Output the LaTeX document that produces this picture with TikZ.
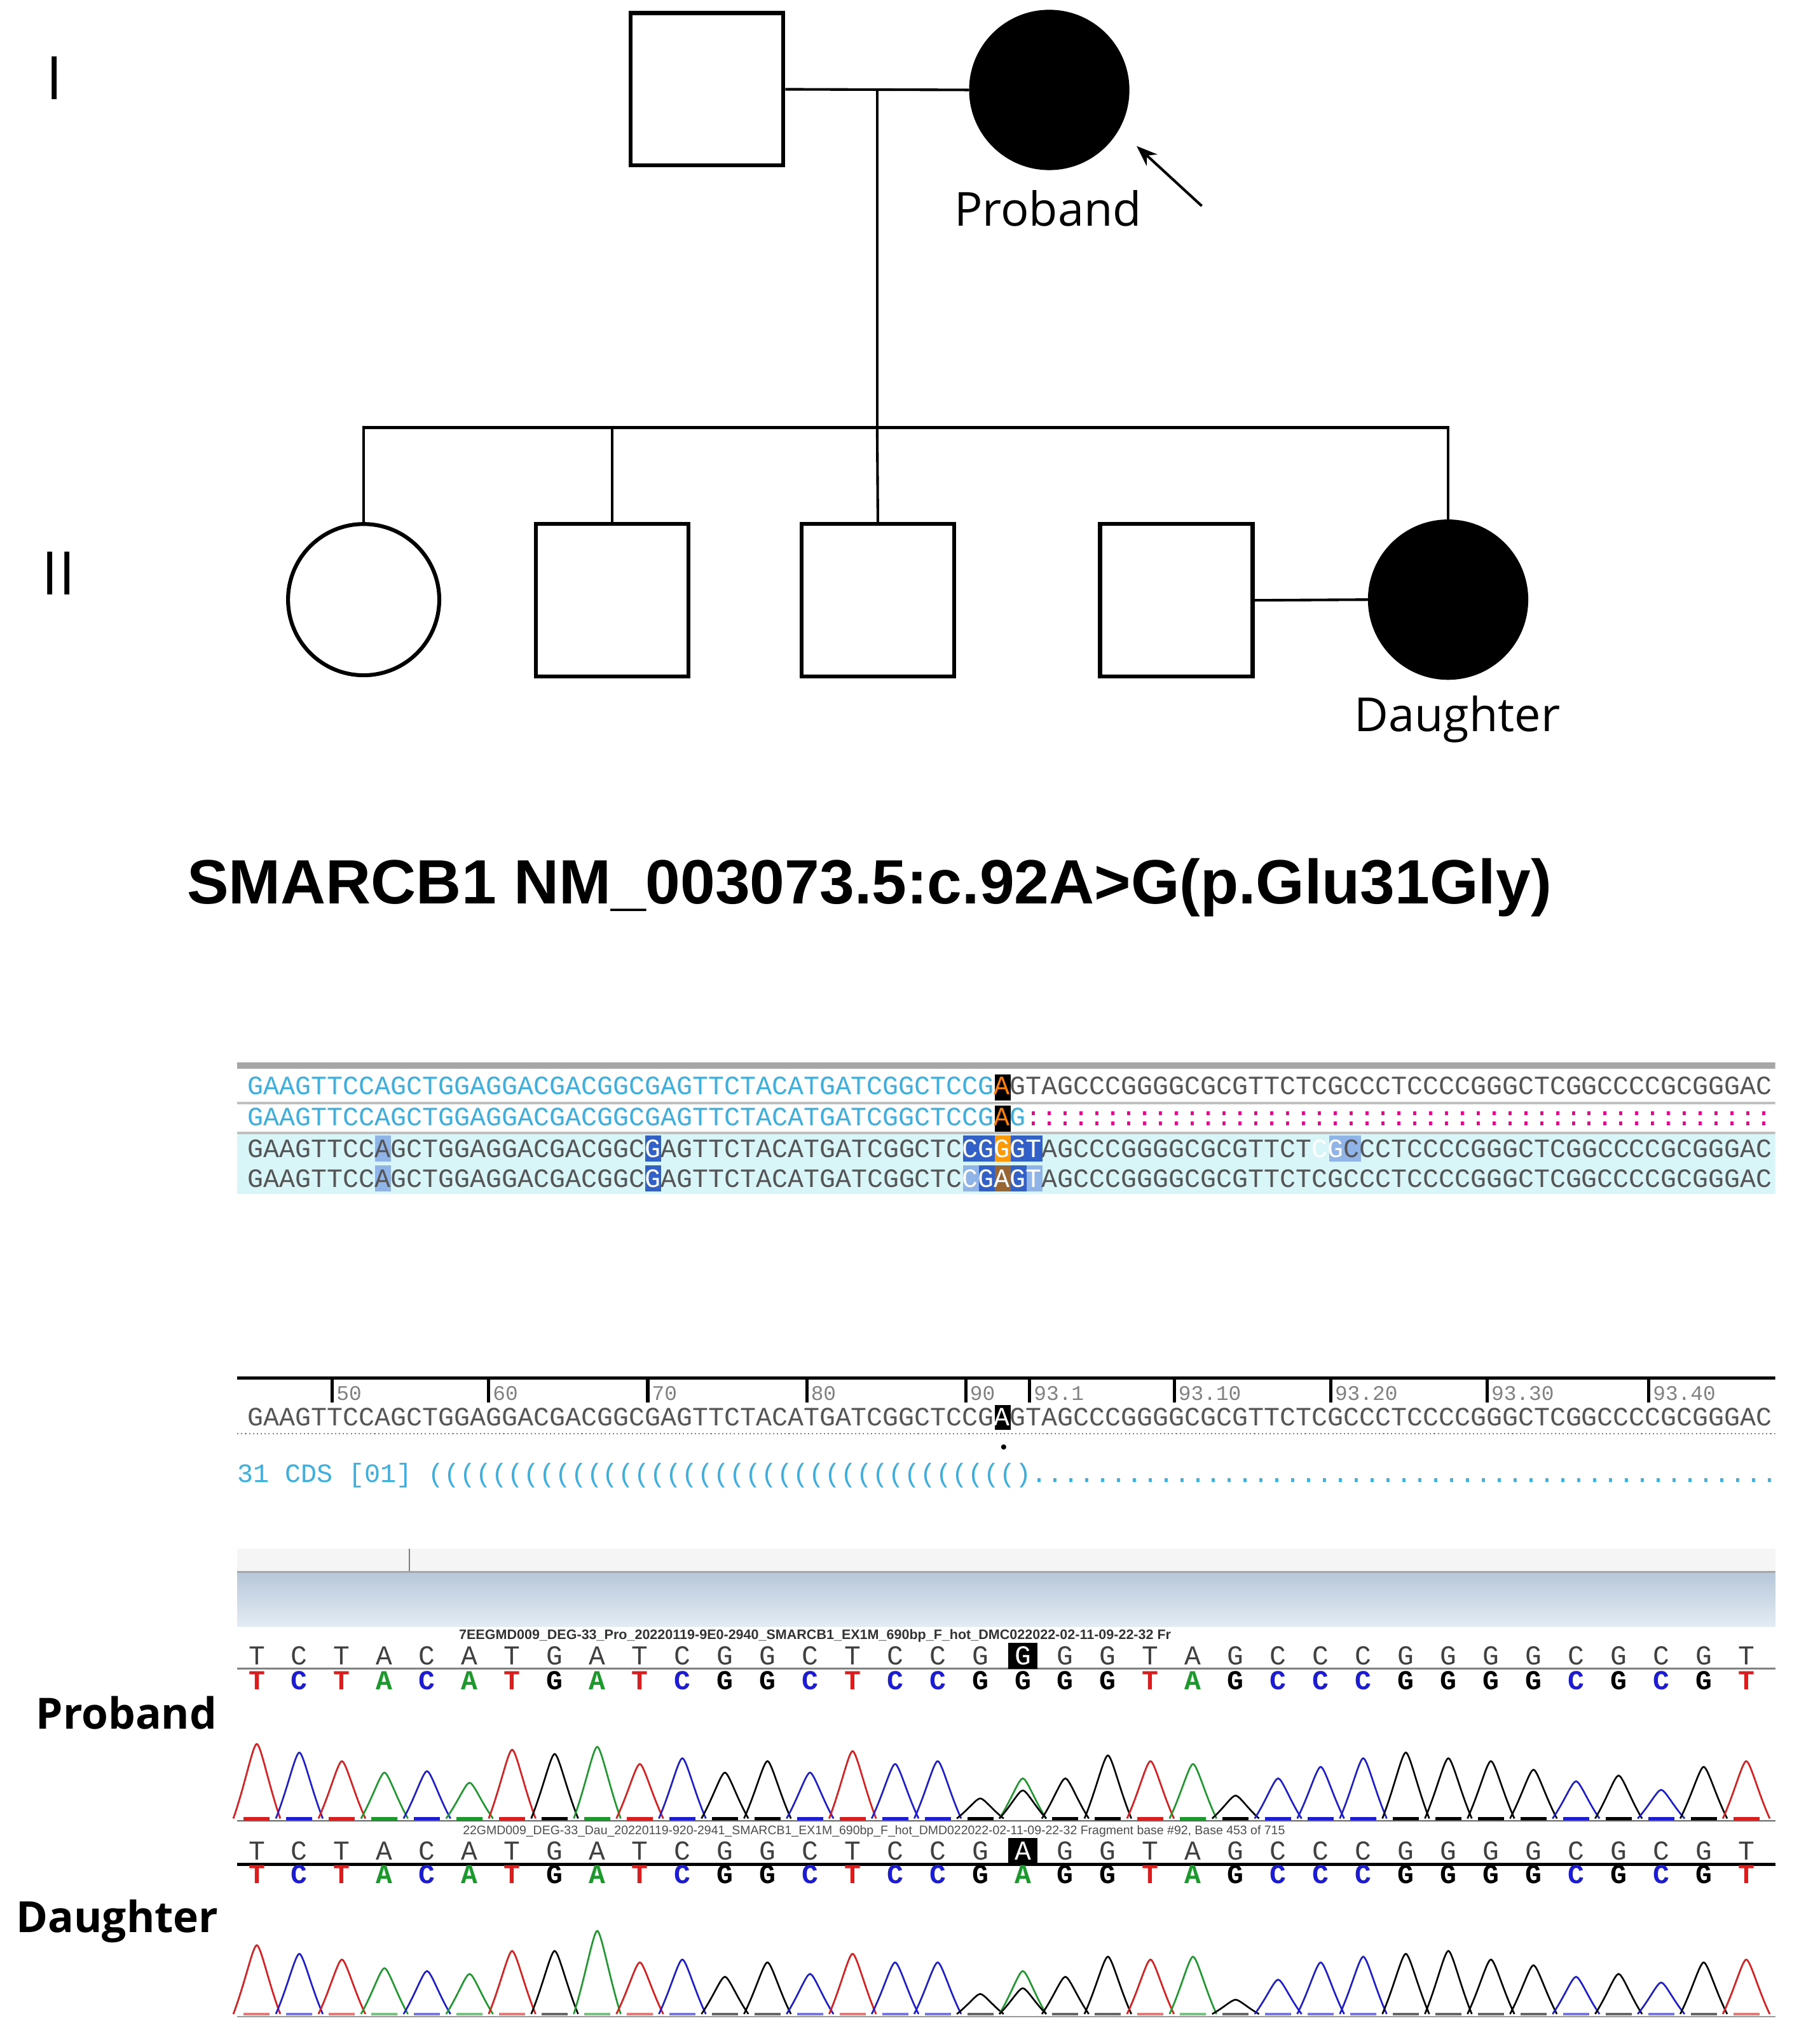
\documentclass[tikz,border=0pt]{standalone}
\usepackage{fontspec}
\setmainfont{Open Sans}
\newfontfamily\arialb{Liberation Sans}
\newfontfamily\mono{Liberation Mono}
\usetikzlibrary{arrows.meta}
\definecolor{seqblue}{HTML}{3BB0E0}
\definecolor{seqgray}{HTML}{555555}
\definecolor{cyanbg}{HTML}{D8F6F8}
\definecolor{hlblue}{HTML}{3060C8}
\definecolor{hllight}{HTML}{8FB4E8}
\definecolor{bandtop}{HTML}{B8C8DA}
\definecolor{bandbot}{HTML}{E4ECF4}
\definecolor{tG}{HTML}{000000}
\definecolor{tA}{HTML}{1A9A2A}
\definecolor{tC}{HTML}{1B1BD8}
\definecolor{tT}{HTML}{E01B1B}
\begin{document}
\begin{tikzpicture}[x=1pt,y=-1pt,
 ped/.style={draw,line width=3pt},
 lbl/.style={font=\fontsize{36}{40}\selectfont},
 gen/.style={font=\fontsize{46}{50}\selectfont},
 seq/.style={anchor=west,inner sep=0,font=\mono\fontsize{20.3}{20}\selectfont},
 base/.style={inner sep=0,font=\mono\fontsize{21}{20}\selectfont},
 trace/.style={line width=1.3pt}]
\useasboundingbox (0,0) rectangle (1380,1568);
\def\pk#1#2#3#4{% color, x, baseline, height
  \draw[trace,#1] (#2-18,#3) .. controls (#2-9,#3-0.45*#4) and (#2-3,#3-#4) .. (#2,#3-#4)
     .. controls (#2+3,#3-#4) and (#2+9,#3-0.45*#4) .. (#2+18,#3);}
% ---------- pedigree
\node[gen] (gI) at (42,60) {I};
\node[gen] (gII) at (45,440) {II};
\node[ped,minimum size=117pt,inner sep=0] (f) at (542.5,68.5) {};
\node[ped,circle,fill=black,minimum size=120pt,inner sep=0] (p) at (805,69) {};
\draw[line width=2pt] (f.east) -- (p.west);
\coordinate (m) at (673,69);
\coordinate (s) at (673,328);
\draw[line width=2pt] (m) -- (s);
\node[ped,circle,minimum size=116pt,inner sep=0] (c1) at (279,460) {};
\node[ped,minimum size=117pt,inner sep=0] (c2) at (469.5,460.5) {};
\node[ped,minimum size=117pt,inner sep=0] (c3) at (673.5,460.5) {};
\node[ped,minimum size=117pt,inner sep=0] (sp) at (902.5,460.5) {};
\node[ped,circle,fill=black,minimum size=120pt,inner sep=0] (d) at (1111,460) {};
\draw[line width=2pt] (c1.north) |- (s) -| (d.north);
\draw[line width=2pt] (c2.north) -- (c2.north|-s);
\draw[line width=2pt] (c3.north) -- (s);
\draw[line width=2pt] (sp.east) -- (d.west);
\node[lbl] (pl) at (804,160) {Proband};
\node[lbl] (dl) at (1118,552) {Daughter};
\coordinate (a0) at (922,158);
\draw[line width=2pt,-{Stealth[length=16pt,width=12pt]}] (a0) -- (872,112);
% ---------- title
\node[font=\arialb\bfseries\fontsize{48}{52}\selectfont] (title) at (667,681) {SMARCB1 NM\_003073.5:c.92A>G(p.Glu31Gly)};
% ---------- alignment panel
\def\w{12.2}\def\xo{190}
\begin{scope}
\clip (182,800) rectangle (1362,930);
\fill[cyanbg] (182,870) rectangle (1362,916);
\fill[gray!70] (182,815) rectangle (1362,820);
\fill[gray!50] (182,845) rectangle (1362,847);
\fill[gray!50] (182,868) rectangle (1362,870);
\foreach \i/\c in {8/hllight,25/hlblue,45/hlblue,46/hlblue,48/hlblue,49/hlblue,68/hllight,69/hllight}
  \fill[\c] (\xo+\w*\i,871) rectangle ++(\w,20);
\fill[orange!80!yellow] (\xo+\w*47,871) rectangle ++(\w,20);
\foreach \i/\c in {8/hllight,25/hlblue,45/hllight,46/hlblue,48/hlblue,49/hllight}
  \fill[\c] (\xo+\w*\i,894) rectangle ++(\w,20);
\fill[brown!80!black] (\xo+\w*47,894) rectangle ++(\w,20);
\fill[black] (\xo+\w*47,824) rectangle ++(\w,20);
\fill[black] (\xo+\w*47,848) rectangle ++(\w,20);
\node[seq,text=seqblue] (r1) at (\xo,833) {GAAGTTCCAGCTGGAGGACGACGGCGAGTTCTACATGATCGGCTCCG\textcolor{orange}{A}\textcolor{seqgray}{GTAGCCCGGGGCGCGTTCTCGCCCTCCCCGGGCTCGGCCCCGCGGGAC}};
\node[seq,text=seqblue] (r2) at (\xo,857) {GAAGTTCCAGCTGGAGGACGACGGCGAGTTCTACATGATCGGCTCCG\textcolor{orange}{A}G\textcolor{magenta}{:::::::::::::::::::::::::::::::::::::::::::::::::}};
\node[seq,text=seqgray] (r3) at (\xo,881) {GAAGTTCCAGCTGGAGGACGACGGC\textcolor{white}{G}AGTTCTACATGATCGGCTC\textcolor{white}{CGGGT}AGCCCGGGGCGCGTTCT\textcolor{white}{CG}CCCTCCCCGGGCTCGGCCCCGCGGGAC};
\node[seq,text=seqgray] (r4) at (\xo,904) {GAAGTTCCAGCTGGAGGACGACGGC\textcolor{white}{G}AGTTCTACATGATCGGCTC\textcolor{white}{CGAGT}AGCCCGGGGCGCGTTCTCGCCCTCCCCGGGCTCGGCCCCGCGGGAC};
\end{scope}
% ---------- reference panel
\begin{scope}
\clip (182,1040) rectangle (1362,1150);
\draw[line width=2.5pt] (182,1057) -- (1362,1057);
\foreach \x/\t in {255/50,375/60,497/70,619/80,741/90,790/93.1,901/93.10,1021/93.20,1141/93.30,1265/93.40}{
  \draw[line width=2.5pt] (\x,1057) -- (\x,1076);
  \node[anchor=west,inner sep=0,text=gray,font=\mono\fontsize{16}{16}\selectfont] at (\x+3,1069) {\t};}
\fill[black] (\xo+\w*47,1078) rectangle ++(\w,19);
\node[seq,text=seqgray] (r5) at (\xo,1087) {GAAGTTCCAGCTGGAGGACGACGGCGAGTTCTACATGATCGGCTCCG\textcolor{white}{A}GTAGCCCGGGGCGCGTTCTCGCCCTCCCCGGGCTCGGCCCCGCGGGAC};
\draw[gray,dotted,line width=1pt] (182,1100) -- (1362,1100);
\fill (770,1110) circle (2pt);
\node[seq,text=seqblue] (cds) at (182,1132) {31 CDS [01] ((((((((((((((((((((((((((((((((((((()......................................................};
\end{scope}
% ---------- bands
\fill[gray!8] (182,1188) rectangle (1362,1206);
\draw[gray,line width=1pt] (314,1188) -- (314,1206);
\draw[gray!70,line width=1.5pt] (182,1206) -- (1362,1206);
\shade[top color=bandtop,bottom color=bandbot] (182,1207) rectangle (1362,1248);
% ---------- chromatograms
\node[font=\bfseries\fontsize{33}{36}\selectfont] (lp) at (97,1314) {Proband};
\node[font=\bfseries\fontsize{33}{36}\selectfont] (ld) at (90,1474) {Daughter};
\node[anchor=west,inner sep=0,font=\arialb\bfseries\fontsize{10.5}{11}\selectfont,text=black!80] (hp) at (352,1255) {7EEGMD009\_DEG-33\_Pro\_20220119-9E0-2940\_SMARCB1\_EX1M\_690bp\_F\_hot\_DMC022022-02-11-09-22-32 Fr};
\node[anchor=west,inner sep=0,font=\arialb\fontsize{9.5}{10}\selectfont,text=black!70] (hd) at (355,1405) {22GMD009\_DEG-33\_Dau\_20220119-920-2941\_SMARCB1\_EX1M\_690bp\_F\_hot\_DMD022022-02-11-09-22-32 Fragment base \#92, Base 453 of 715};
\draw[gray,line width=1.5pt] (182,1280) -- (1362,1280);
\draw[black,line width=2.5pt] (182,1430) -- (1362,1430);
\def\sp{32.65}
\foreach \b/\hp/\hd [count=\i from 0] in {T/52/48,C/46/42,T/40/38,A/32/32,C/33/30,A/25/28,T/48/44,G/45/44,A/50/58,T/38/36,C/42/38,G/32/26,G/40/36,C/32/28,T/47/42,C/38/36,C/40/36,G/14/14,G/28/30,G/28/26,G/44/40,T/40/38,A/38/40,G/16/10,C/28/24,C/36/36,C/42/40,G/46/42,G/42/44,G/40/38,G/34/34,C/26/26,G/30/28,C/20/22,G/36/36,T/40/38}{
  \pgfmathsetmacro{\x}{197+\sp*\i}
  \pgfmathsetmacro{\hP}{1.1*\hp}
  \pgfmathsetmacro{\hD}{1.1*\hd}
  \ifnum\i=18
    \fill[black] (\x-11,1260) rectangle (\x+11,1280);
    \node[base,text=white] at (\x,1270) {G};
    \fill[black] (\x-11,1410) rectangle (\x+11,1430);
    \node[base,text=white] at (\x,1420) {A};
    \node[base,text=tG,font=\mono\bfseries\fontsize{21}{20}\selectfont] at (\x,1289) {G};
    \node[base,text=tA,font=\mono\bfseries\fontsize{21}{20}\selectfont] at (\x,1438) {A};
    \pk{tA}{\x}{1395}{\hP}
    \pgfmathsetmacro{\hG}{0.7*\hP}
    \pk{tG}{\x}{1395}{\hG}
    \pk{tA}{\x}{1545}{\hD}
    \pgfmathsetmacro{\hG}{0.6*\hD}
    \pk{tG}{\x}{1545}{\hG}
  \else
    \node[base,text=black!75] at (\x,1270) {\b};
    \node[base,text=black!75] at (\x,1420) {\b};
    \node[base,text=t\b,font=\mono\bfseries\fontsize{21}{20}\selectfont] at (\x,1289) {\b};
    \node[base,text=t\b,font=\mono\bfseries\fontsize{21}{20}\selectfont] at (\x,1438) {\b};
    \pk{t\b}{\x}{1395}{\hP}
    \pk{t\b}{\x}{1545}{\hD}
    \draw[line width=2.5pt,t\b] (\x-10,1395) -- (\x+10,1395);
    \draw[line width=2pt,t\b!60] (\x-10,1545) -- (\x+10,1545);
  \fi
}
\draw[black!60,line width=1pt] (182,1397) -- (1362,1397);
\draw[black!40,line width=1pt] (182,1547) -- (1362,1547);
\end{tikzpicture}
\end{document}
